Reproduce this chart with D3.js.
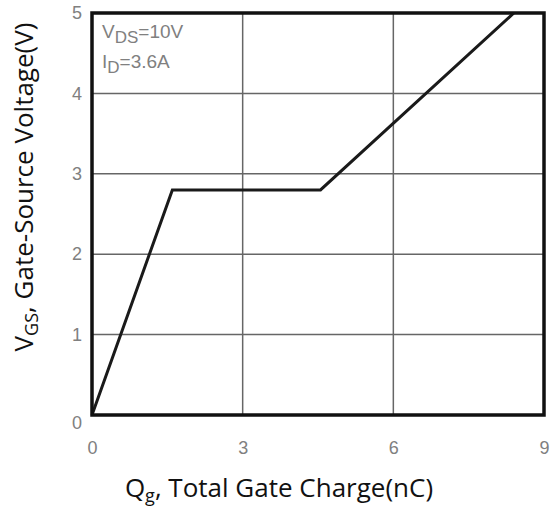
<!DOCTYPE html>
<html>
<head>
<meta charset="utf-8">
<script src="https://cdn.jsdelivr.net/npm/d3@7"></script>
<style>
  body { margin: 0; background: #fff; }
</style>
</head>
<body>
<div id="vis"></div>
<script>
// Gate charge curve
var qg = [0, 1.6, 4.55, 8.4];
var vgs = [0, 2.8, 2.8, 5];
var xTicks = [0, 3, 6, 9];
var yTicks = [0, 1, 2, 3, 4, 5];

var width = 554,
    height = 506,
    margin = { top: 13, right: 10, bottom: 91, left: 92 },
    drawWidth = 544 - margin.left,
    drawHeight = height - margin.top - margin.bottom;

var svg = d3.select("#vis").append("svg")
    .attr("width", width)
    .attr("height", height);

var g = svg.append("g")
    .attr("transform", "translate(" + margin.left + "," + margin.top + ")");

var x = d3.scaleLinear().domain([0, 9]).range([0, drawWidth]);
var y = d3.scaleLinear().domain([0, 5]).range([drawHeight, 0]);

// grid
g.selectAll(".vgrid")
    .data(xTicks.slice(1, -1))
    .enter().append("line")
    .attr("x1", function (d) { return x(d); })
    .attr("x2", function (d) { return x(d); })
    .attr("y1", 0).attr("y2", drawHeight)
    .style("stroke", "#666").style("stroke-width", 1.5);

g.selectAll(".hgrid")
    .data(yTicks.slice(1, -1))
    .enter().append("line")
    .attr("y1", function (d) { return y(d); })
    .attr("y2", function (d) { return y(d); })
    .attr("x1", 0).attr("x2", drawWidth)
    .style("stroke", "#666").style("stroke-width", 1.5);

// axes (labels only)
var xAxis = d3.axisBottom(x).tickValues(xTicks).tickFormat(d3.format("d")).tickSize(0).tickPadding(26);
var yAxis = d3.axisLeft(y).tickValues(yTicks).tickFormat(d3.format("d")).tickSize(0).tickPadding(10);

var gx = g.append("g")
    .attr("transform", "translate(0," + drawHeight + ")")
    .call(xAxis);
gx.select(".domain").remove();

var gy = g.append("g").call(yAxis);
gy.select(".domain").remove();
gy.selectAll("text").attr("dy", function (d) {
    return d === 0 ? "0.75em" : "0.32em";
});

svg.selectAll(".tick text")
    .style("font-family", "Liberation Sans, Arial, sans-serif")
    .style("font-size", "18px")
    .style("fill", "#808080");

// curve
var line = d3.line()
    .x(function (d) { return x(d[0]); })
    .y(function (d) { return y(d[1]); });

g.append("path")
    .datum(d3.zip(qg, vgs))
    .attr("d", line)
    .style("fill", "none")
    .style("stroke", "#1a1a1a")
    .style("stroke-width", 3)
    .style("stroke-linejoin", "miter");

// frame
g.append("rect")
    .attr("x", 0).attr("y", 0)
    .attr("width", drawWidth).attr("height", drawHeight)
    .style("fill", "none")
    .style("stroke", "#111")
    .style("stroke-width", 3.5);

// conditions
var note = g.append("g")
    .style("font-family", "Liberation Sans, Arial, sans-serif")
    .style("fill", "#808080")
    .style("font-size", "19px");
var t1 = note.append("text").attr("x", 10).attr("y", 25);
t1.append("tspan").text("V");
t1.append("tspan").attr("dy", 5).style("font-size", "17px").text("DS");
t1.append("tspan").attr("dy", -5).text("=10V");
var t2 = note.append("text").attr("x", 10).attr("y", 55);
t2.append("tspan").text("I");
t2.append("tspan").attr("dy", 5).style("font-size", "17px").text("D");
t2.append("tspan").attr("dy", -5).text("=3.6A");

// axis titles
var xt = svg.append("text")
    .attr("x", 279).attr("y", 497)
    .attr("text-anchor", "middle")
    .style("font-family", "Open Sans, Noto Sans, sans-serif")
    .style("font-size", "26px")
    .style("fill", "#111");
xt.append("tspan").text("Q");
xt.append("tspan").attr("dy", 5).style("font-size", "18px").text("g");
xt.append("tspan").attr("dy", -5).text(", Total Gate Charge(nC)");

var yt = svg.append("text")
    .attr("transform", "translate(33,187) rotate(-90)")
    .attr("text-anchor", "middle")
    .style("font-family", "Open Sans, Noto Sans, sans-serif")
    .style("font-size", "26px")
    .style("fill", "#111");
yt.append("tspan").text("V");
yt.append("tspan").attr("dy", 5).style("font-size", "18px").text("GS");
yt.append("tspan").attr("dy", -5).text(", Gate-Source Voltage(V)");
</script>
</body>
</html>
